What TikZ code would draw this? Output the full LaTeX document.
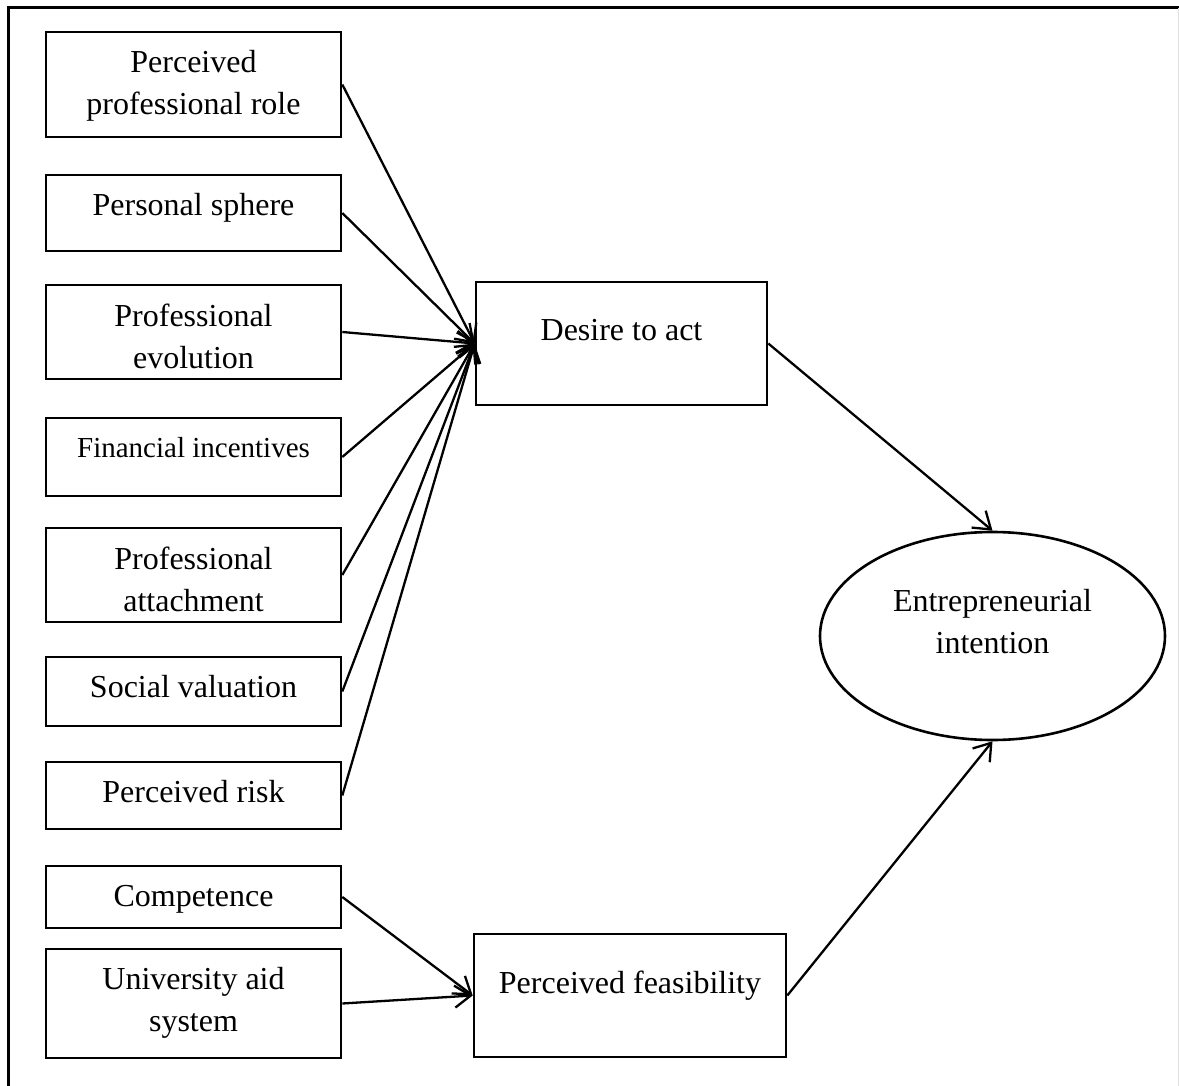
\documentclass[tikz,border=0pt]{standalone}
\usepackage{fontspec}
\setmainfont{Liberation Serif}
\usetikzlibrary{arrows.meta,shapes.geometric}
\begin{document}
\begin{tikzpicture}[x=1pt,y=-1pt,
  box/.style={draw, line width=2.6pt, rectangle, inner sep=0pt, minimum width=295pt},
  txt/.style={align=center, inner sep=0pt, font=\fontsize{32}{42}\selectfont},
  smalltxt/.style={align=center, inner sep=0pt, font=\fontsize{29}{42}\selectfont},
  conn/.style={line width=2.3pt, -{Straight Barb[length=16pt,width=22pt]}}]
\useasboundingbox (0,0) rectangle (1179,1086);
\draw[line width=3pt] (8,1086) -- (8,8) -- (1179,8);
\draw[line width=1pt, black!12] (1178,8) -- (1178,1086);

% left boxes
\node[box, minimum height=105pt] (b1) at (193.5,84.5) {};
\node[box, minimum height=76pt]  (b2) at (193.5,213) {};
\node[box, minimum height=94pt]  (b3) at (193.5,332) {};
\node[box, minimum height=78pt]  (b4) at (193.5,457) {};
\node[box, minimum height=94pt]  (b5) at (193.5,575) {};
\node[box, minimum height=69pt]  (b6) at (193.5,691.5) {};
\node[box, minimum height=67pt]  (b7) at (193.5,795.5) {};
\node[box, minimum height=62pt]  (b8) at (193.5,897) {};
\node[box, minimum height=109pt] (b9) at (193.5,1003.5) {};

\node[txt] (t1) at (193.5,85) {\strut Perceived\\\strut professional role};
\node[txt] (t2) at (193.5,207.5) {\strut Personal sphere};
\node[txt] (t3) at (193.5,339) {\strut Professional\\\strut evolution};
\node[smalltxt] (t4) at (193.5,449.5) {\strut Financial incentives};
\node[txt] (t5) at (193.5,582.5) {\strut Professional\\\strut attachment};
\node[txt] (t6) at (193.5,689.5) {\strut Social valuation};
\node[txt] (t7) at (193.5,794.5) {\strut Perceived risk};
\node[txt] (t8) at (193.5,898.5) {\strut Competence};
\node[txt] (t9) at (193.5,1002.5) {\strut University aid\\\strut system};

% middle boxes
\node[box, minimum width=291pt, minimum height=123pt] (desire) at (621.5,343.5) {};
\node[txt] (tdesire) at (621.5,332.5) {\strut Desire to act};
\node[box, minimum width=312pt, minimum height=123pt] (feas) at (630,995.5) {};
\node[txt] (tfeas) at (630,985.5) {\strut Perceived feasibility};

% ellipse
\node[draw, ellipse, line width=2.6pt, inner sep=0pt, minimum width=345pt, minimum height=208pt] (ent) at (992.5,636) {};
\node[txt] (tent) at (992.5,624.5) {\strut Entrepreneurial\\\strut intention};

% connectors
\foreach \b in {b1,b2,b3,b4,b5,b6,b7}
  \draw[conn] (\b.east) -- (desire.west);
\draw[conn] (b8.east) -- (feas.west);
\draw[conn] (b9.east) -- (feas.west);
\draw[conn] (desire.east) -- (ent.north);
\draw[conn] (feas.east) -- (ent.south);
\end{tikzpicture}
\end{document}
